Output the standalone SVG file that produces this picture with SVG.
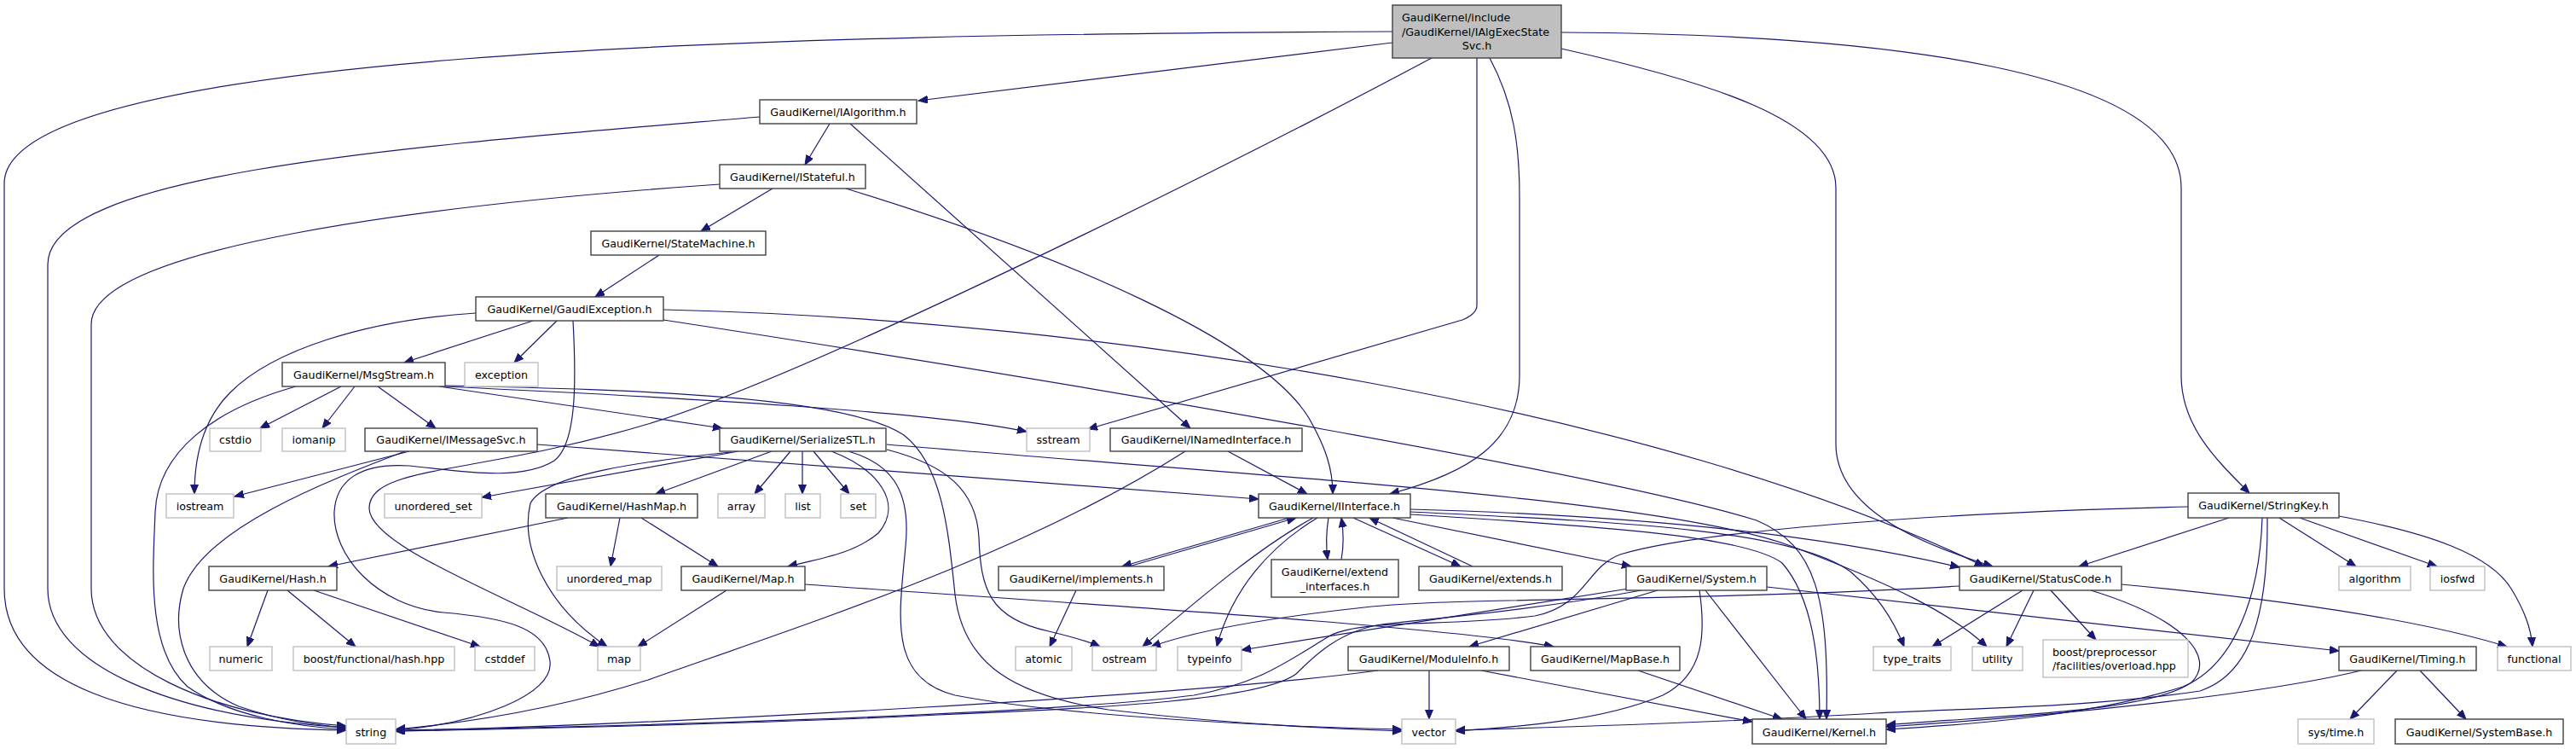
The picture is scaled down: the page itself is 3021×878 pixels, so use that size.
<svg xmlns="http://www.w3.org/2000/svg" width="3021" height="878" viewBox="0 0 3021 878">
<defs>
<marker id="arr" markerWidth="12" markerHeight="10" refX="11" refY="4.5" orient="auto" markerUnits="userSpaceOnUse"><path d="M0,0 L11,4.5 L0,9 z" fill="#191970" stroke="#191970" stroke-width="1"/></marker>
<style>
text{font-family:"DejaVu Sans","Liberation Sans",sans-serif;font-size:12.7px;fill:#000;text-anchor:middle}
.n rect{fill:#fff;stroke:#404040;stroke-width:1.4}
.g rect{fill:#fff;stroke:#bfbfbf;stroke-width:1.4}
.r rect{fill:#bfbfbf;stroke:#404040;stroke-width:1.4}
.l{text-anchor:start}
#edges path{fill:none;stroke:#191970;stroke-width:1.2;marker-end:url(#arr)}
</style>
</defs>
<rect width="3021" height="878" fill="#fff"/>
<g id="edges">
<path d="M1633,37 C900,40 5,60 5,215 L5,690 C5,800 150,852 406,856"/>
<path d="M1633,50 L1077,118"/>
<path d="M1679,68 C1450,190 950,440 760,497 C560,557 435,545 433,595 C431,640 600,700 703,758"/>
<path d="M1732,68 L1732,358 Q1732,368 1715,375 L1276,503"/>
<path d="M1747,68 C1775,120 1782,170 1782,230 L1782,440 C1782,520 1720,555 1630,579"/>
<path d="M1831,57 C2000,95 2153,140 2153,220 L2153,520 C2153,600 2260,640 2337,664"/>
<path d="M1831,38 C2200,40 2558,80 2558,220 L2558,440 C2558,500 2600,540 2638,578"/>
<path d="M973,145 L944,193"/>
<path d="M997,145 L1396,502"/>
<path d="M891,137 C500,170 56,200 56,310 L56,690 C56,780 200,840 406,853"/>
<path d="M906,221 L822,271"/>
<path d="M992,221 C1250,300 1480,400 1535,490 C1555,525 1563,550 1563,579"/>
<path d="M844,216 C500,240 107,290 107,380 L107,690 C107,780 250,840 406,851"/>
<path d="M773,299 L698,348"/>
<path d="M625,376 L474,425"/>
<path d="M653,376 L603,425"/>
<path d="M558,367 C430,375 320,410 270,460 C240,490 228,530 228,579"/>
<path d="M672,376 C676,450 676,520 650,540 C610,565 540,552 480,546 C420,542 394,565 392,600 C390,650 440,710 520,718 C590,724 640,735 645,775 C650,815 560,848 464,856"/>
<path d="M778,363 C1300,375 1950,480 2327,664"/>
<path d="M778,375 C1300,455 1900,560 2060,610 C2130,640 2145,700 2142,843"/>
<path d="M400,453 L305,502"/>
<path d="M416,453 L378,502"/>
<path d="M443,453 L511,502"/>
<path d="M515,453 L847,502"/>
<path d="M520,453 C800,466 1100,483 1204,506"/>
<path d="M522,452 C750,457 990,464 1060,510 C1105,545 1112,620 1120,697 C1130,780 1190,815 1300,832 C1450,850 1580,855 1644,857"/>
<path d="M347,453 C250,480 185,530 182,600 C180,660 170,760 220,805 C270,840 350,852 406,855"/>
<path d="M480,529 L275,582"/>
<path d="M475,529 C380,565 240,620 215,690 C200,740 215,800 280,828 C330,845 370,850 406,853"/>
<path d="M630,521 L1476,585"/>
<path d="M905,529 L769,579"/>
<path d="M927,529 L885,579"/>
<path d="M941,529 L941,579"/>
<path d="M954,529 L996,579"/>
<path d="M975,529 C1030,550 1060,590 1030,625 C1000,650 960,655 924,664"/>
<path d="M866,529 L565,583"/>
<path d="M857,530 C760,540 640,555 622,590 C610,640 640,710 712,758"/>
<path d="M1040,527 C1110,545 1145,575 1148,630 C1150,690 1160,725 1230,740 C1255,746 1275,751 1290,758"/>
<path d="M995,529 C1050,545 1068,580 1062,640 C1055,720 1040,795 1120,815 C1250,840 1500,852 1644,855"/>
<path d="M1040,521 C1500,560 1950,585 2100,640 C2220,685 2290,720 2330,758"/>
<path d="M1440,529 L1533,579"/>
<path d="M1390,529 C1200,650 950,730 760,797 C650,832 540,848 464,855"/>
<path d="M666,607 L385,664"/>
<path d="M727,607 L716,664"/>
<path d="M752,607 L842,664"/>
<path d="M314,692 L290,758"/>
<path d="M337,692 L417,758"/>
<path d="M368,692 L563,758"/>
<path d="M852,692 L748,758"/>
<path d="M944,685 C1300,710 1700,735 1822,758"/>
<path d="M1512,607 L1316,664"/>
<path d="M1324,664 L1520,607"/>
<path d="M1558,607 C1555,625 1555,640 1557,656"/>
<path d="M1573,656 C1576,640 1576,625 1573,607"/>
<path d="M1587,607 L1713,664"/>
<path d="M1727,664 L1606,607"/>
<path d="M1633,607 L1913,664"/>
<path d="M1540,607 C1480,640 1420,690 1340,758"/>
<path d="M1545,607 C1490,640 1445,690 1427,758"/>
<path d="M1654,597 C1950,605 2150,630 2298,665"/>
<path d="M1654,600 C1900,612 2100,620 2170,670 C2205,700 2222,730 2233,758"/>
<path d="M1654,603 C1900,618 2050,630 2090,660 C2125,700 2134,770 2134,843"/>
<path d="M1262,692 L1231,758"/>
<path d="M1944,692 L1723,758"/>
<path d="M2000,692 L2118,843"/>
<path d="M1993,692 C2000,740 2000,790 1950,815 C1880,845 1780,852 1707,857"/>
<path d="M2072,688 L2743,763"/>
<path d="M1910,690 L1456,762"/>
<path d="M1925,692 C1800,715 1680,725 1620,732 C1570,740 1540,770 1520,790 C1480,820 1300,830 1100,838 C900,848 600,855 464,857"/>
<path d="M1616,786 C1400,815 800,848 464,857"/>
<path d="M1676,786 L1676,843"/>
<path d="M1737,786 L2055,846"/>
<path d="M1921,786 L2090,843"/>
<path d="M2372,692 L2266,758"/>
<path d="M2385,692 L2353,758"/>
<path d="M2405,692 L2458,750"/>
<path d="M2488,685 C2700,705 2850,730 2940,758"/>
<path d="M2298,687 C2000,705 1700,700 1600,712 C1480,725 1400,740 1350,758"/>
<path d="M2452,692 C2560,725 2600,770 2570,800 C2520,835 2350,838 2212,850"/>
<path d="M2614,607 L2438,664"/>
<path d="M2673,607 L2763,664"/>
<path d="M2697,607 L2858,664"/>
<path d="M2743,605 C2850,625 2920,650 2945,690 C2960,715 2968,735 2970,758"/>
<path d="M2653,607 C2650,700 2620,780 2560,805 C2450,840 2300,850 2212,855"/>
<path d="M2659,607 C2660,720 2640,790 2580,810 C2450,830 2300,830 2200,836 C2050,845 1850,852 1707,856"/>
<path d="M2566,594 C2300,600 2000,620 1900,650 C1860,665 1860,710 1800,722 C1700,735 1600,725 1560,745 C1510,775 1480,800 1400,815 C1200,840 700,852 464,856"/>
<path d="M2769,786 C2650,815 2400,840 2212,852"/>
<path d="M2811,786 L2756,843"/>
<path d="M2838,786 L2892,843"/>
</g>
<g id="root" class="r"><rect x="1633" y="6" width="198" height="62"/><text class="l" x="1644" y="25">GaudiKernel/include</text><text class="l" x="1644" y="41.5">/GaudiKernel/IAlgExecState</text><text x="1732" y="58">Svc.h</text></g>
<g id="IAlgorithm" class="n"><rect x="891" y="117" width="184" height="28"/><text x="983" y="135.5">GaudiKernel/IAlgorithm.h</text></g>
<g id="IStateful" class="n"><rect x="844" y="193" width="171" height="28"/><text x="929.5" y="211.5">GaudiKernel/IStateful.h</text></g>
<g id="StateMachine" class="n"><rect x="693" y="271" width="205" height="28"/><text x="795.5" y="289.5">GaudiKernel/StateMachine.h</text></g>
<g id="GaudiException" class="n"><rect x="558" y="348" width="220" height="28"/><text x="668" y="366.5">GaudiKernel/GaudiException.h</text></g>
<g id="MsgStream" class="n"><rect x="331" y="425" width="191" height="28"/><text x="426.5" y="443.5">GaudiKernel/MsgStream.h</text></g>
<g id="exception" class="g"><rect x="545" y="425" width="86" height="28"/><text x="588" y="443.5">exception</text></g>
<g id="cstdio" class="g"><rect x="246" y="502" width="60" height="27"/><text x="276" y="520">cstdio</text></g>
<g id="iomanip" class="g"><rect x="331" y="502" width="74" height="27"/><text x="368" y="520">iomanip</text></g>
<g id="IMessageSvc" class="n"><rect x="428" y="502" width="202" height="27"/><text x="529" y="520">GaudiKernel/IMessageSvc.h</text></g>
<g id="SerializeSTL" class="n"><rect x="844" y="502" width="195" height="27"/><text x="941.5" y="520">GaudiKernel/SerializeSTL.h</text></g>
<g id="sstream" class="g"><rect x="1204" y="502" width="74" height="27"/><text x="1241" y="520">sstream</text></g>
<g id="INamedInterface" class="n"><rect x="1302" y="502" width="225" height="27"/><text x="1414.5" y="520">GaudiKernel/INamedInterface.h</text></g>
<g id="iostream" class="g"><rect x="195" y="579" width="79" height="28"/><text x="234.5" y="597.5">iostream</text></g>
<g id="unordered_set" class="g"><rect x="451" y="579" width="114" height="28"/><text x="508" y="597.5">unordered_set</text></g>
<g id="HashMap" class="n"><rect x="640" y="579" width="178" height="28"/><text x="729" y="597.5">GaudiKernel/HashMap.h</text></g>
<g id="array" class="g"><rect x="842" y="579" width="55" height="28"/><text x="869.5" y="597.5">array</text></g>
<g id="list" class="g"><rect x="921" y="579" width="41" height="28"/><text x="941.5" y="597.5">list</text></g>
<g id="set" class="g"><rect x="986" y="579" width="41" height="28"/><text x="1006.5" y="597.5">set</text></g>
<g id="IInterface" class="n"><rect x="1476" y="579" width="178" height="28"/><text x="1565" y="597.5">GaudiKernel/IInterface.h</text></g>
<g id="StringKey" class="n"><rect x="2566" y="578" width="177" height="29"/><text x="2654.5" y="597">GaudiKernel/StringKey.h</text></g>
<g id="Hash" class="n"><rect x="245" y="664" width="150" height="28"/><text x="320" y="682.5">GaudiKernel/Hash.h</text></g>
<g id="unordered_map" class="g"><rect x="653" y="664" width="123" height="28"/><text x="714.5" y="682.5">unordered_map</text></g>
<g id="Map" class="n"><rect x="799" y="664" width="145" height="28"/><text x="871.5" y="682.5">GaudiKernel/Map.h</text></g>
<g id="implements" class="n"><rect x="1171" y="664" width="194" height="28"/><text x="1268" y="682.5">GaudiKernel/implements.h</text></g>
<g id="extend_interfaces" class="n"><rect x="1491" y="656" width="149" height="44"/><text x="1565.5" y="674.5">GaudiKernel/extend</text><text x="1565.5" y="691.5">_interfaces.h</text></g>
<g id="extends" class="n"><rect x="1664" y="664" width="168" height="28"/><text x="1748" y="682.5">GaudiKernel/extends.h</text></g>
<g id="System" class="n"><rect x="1907" y="664" width="165" height="28"/><text x="1989.5" y="682.5">GaudiKernel/System.h</text></g>
<g id="StatusCode" class="n"><rect x="2298" y="664" width="190" height="28"/><text x="2393" y="682.5">GaudiKernel/StatusCode.h</text></g>
<g id="algorithm" class="g"><rect x="2743" y="664" width="84" height="28"/><text x="2785" y="682.5">algorithm</text></g>
<g id="iosfwd" class="g"><rect x="2850" y="664" width="64" height="28"/><text x="2882" y="682.5">iosfwd</text></g>
<g id="numeric" class="g"><rect x="246" y="758" width="73" height="28"/><text x="282.5" y="776.5">numeric</text></g>
<g id="boost_hash" class="g"><rect x="344" y="758" width="189" height="28"/><text x="438.5" y="776.5">boost/functional/hash.hpp</text></g>
<g id="cstddef" class="g"><rect x="557" y="758" width="70" height="28"/><text x="592" y="776.5">cstddef</text></g>
<g id="map" class="g"><rect x="701" y="758" width="50" height="28"/><text x="726" y="776.5">map</text></g>
<g id="atomic" class="g"><rect x="1191" y="758" width="66" height="28"/><text x="1224" y="776.5">atomic</text></g>
<g id="ostream" class="g"><rect x="1281" y="758" width="75" height="28"/><text x="1318.5" y="776.5">ostream</text></g>
<g id="typeinfo" class="g"><rect x="1381" y="758" width="75" height="28"/><text x="1418.5" y="776.5">typeinfo</text></g>
<g id="ModuleInfo" class="n"><rect x="1581" y="758" width="189" height="28"/><text x="1675.5" y="776.5">GaudiKernel/ModuleInfo.h</text></g>
<g id="MapBase" class="n"><rect x="1795" y="758" width="175" height="28"/><text x="1882.5" y="776.5">GaudiKernel/MapBase.h</text></g>
<g id="type_traits" class="g"><rect x="2197" y="758" width="91" height="28"/><text x="2242.5" y="776.5">type_traits</text></g>
<g id="utility" class="g"><rect x="2313" y="758" width="59" height="28"/><text x="2342.5" y="776.5">utility</text></g>
<g id="boost_pp" class="g"><rect x="2396" y="750" width="170" height="44"/><text class="l" x="2407" y="768.5">boost/preprocessor</text><text class="l" x="2407" y="785">/facilities/overload.hpp</text></g>
<g id="Timing" class="n"><rect x="2743" y="758" width="161" height="28"/><text x="2823.5" y="776.5">GaudiKernel/Timing.h</text></g>
<g id="functional" class="g"><rect x="2929" y="758" width="86" height="28"/><text x="2972" y="776.5">functional</text></g>
<g id="string" class="g"><rect x="406" y="843" width="58" height="29"/><text x="435" y="862.5">string</text></g>
<g id="vector" class="g"><rect x="1644" y="843" width="63" height="29"/><text x="1675.5" y="862.5">vector</text></g>
<g id="Kernel" class="n"><rect x="2055" y="843" width="157" height="29"/><text x="2133.5" y="862.5">GaudiKernel/Kernel.h</text></g>
<g id="systime" class="g"><rect x="2695" y="843" width="89" height="29"/><text x="2739.5" y="862.5">sys/time.h</text></g>
<g id="SystemBase" class="n"><rect x="2809" y="843" width="197" height="29"/><text x="2907.5" y="862.5">GaudiKernel/SystemBase.h</text></g>
</svg>
